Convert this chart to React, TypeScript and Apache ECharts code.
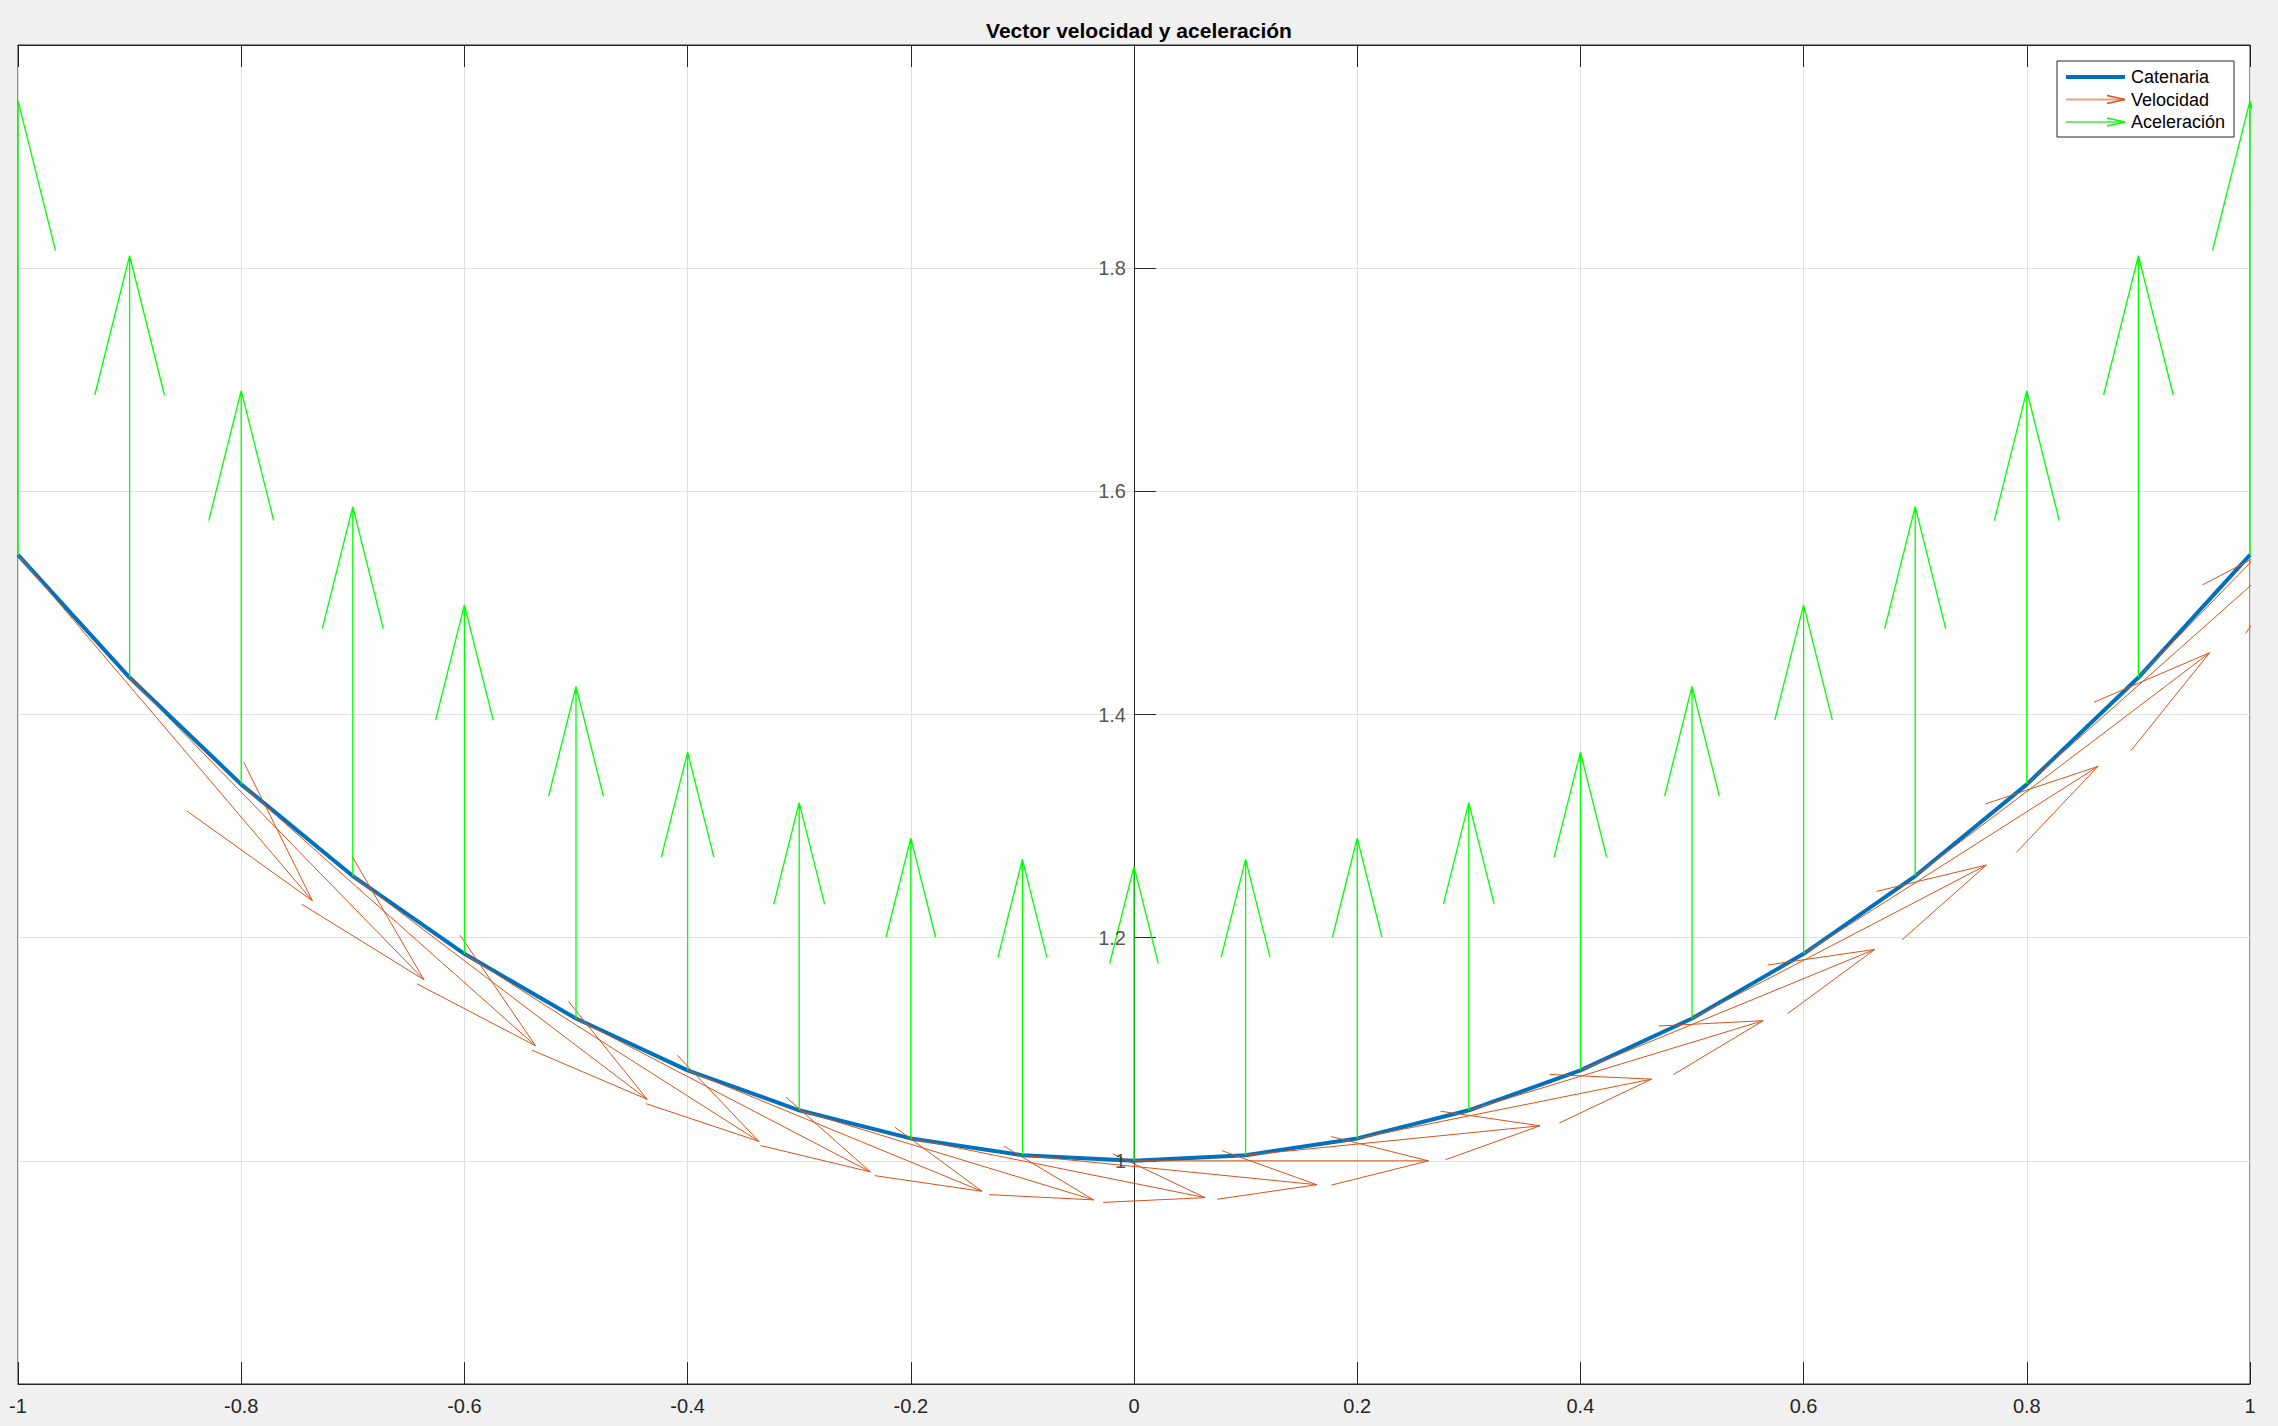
import React, { useEffect, useRef } from "react";
import * as echarts from "echarts";

// ---- data ----
const T = [-1, -0.9, -0.8, -0.7, -0.6, -0.5, -0.4, -0.3, -0.2, -0.1, 0, 0.1, 0.2, 0.3, 0.4, 0.5, 0.6, 0.7, 0.8, 0.9, 1];
const CATENARIA_Y = [1.5431, 1.4331, 1.3374, 1.2552, 1.1855, 1.1276, 1.0811, 1.0453, 1.0201, 1.005, 1.0, 1.005, 1.0201, 1.0453, 1.0811, 1.1276, 1.1855, 1.2552, 1.3374, 1.4331, 1.5431];
const VEL_U = [0.2638, 0.2638, 0.2638, 0.2638, 0.2638, 0.2638, 0.2638, 0.2638, 0.2638, 0.2638, 0.2638, 0.2638, 0.2638, 0.2638, 0.2638, 0.2638, 0.2638, 0.2638, 0.2638, 0.2638, 0.2638];
const VEL_V = [-0.31, -0.2708, -0.2343, -0.2001, -0.168, -0.1375, -0.1084, -0.0803, -0.0531, -0.0264, 0, 0.0264, 0.0531, 0.0803, 0.1084, 0.1375, 0.168, 0.2001, 0.2343, 0.2708, 0.31];
const ACC_U = [0, 0, 0, 0, 0, 0, 0, 0, 0, 0, 0, 0, 0, 0, 0, 0, 0, 0, 0, 0, 0];
const ACC_V = [0.4071, 0.378, 0.3528, 0.3311, 0.3127, 0.2975, 0.2852, 0.2757, 0.2691, 0.2651, 0.2638, 0.2651, 0.2691, 0.2757, 0.2852, 0.2975, 0.3127, 0.3311, 0.3528, 0.378, 0.4071];
const Y_TICK_LABELS = [1, 1.2, 1.4, 1.6, 1.8];
const X_MIN = -1;
const X_MAX = 1;
const Y_MIN = 0.8;
const Y_MAX = 2.0;
const TICK_STEP = 0.2;
const SERIES_NAMES = ["Catenaria", "Velocidad", "Aceleración"];
const TITLE = "Vector velocidad y aceleración";

// arrow head proportions (MATLAB quiver style)
const HEAD_ALPHA = 0.33;
const HEAD_BETA = 0.25;

function quiverData(xs: number[], ys: number[], us: number[], vs: number[]) {
  const out: any[] = [];
  for (let i = 0; i < xs.length; i++) {
    const x0 = xs[i], y0 = ys[i], u = us[i], v = vs[i];
    const x1 = x0 + u, y1 = y0 + v;
    out.push([x0, y0], [x1, y1], ["-", "-"]);
    const b1 = [x1 - HEAD_ALPHA * (u + HEAD_BETA * v), y1 - HEAD_ALPHA * (v - HEAD_BETA * u)];
    const b2 = [x1 - HEAD_ALPHA * (u - HEAD_BETA * v), y1 - HEAD_ALPHA * (v + HEAD_BETA * u)];
    out.push(b1, [x1, y1], b2, ["-", "-"]);
  }
  return out;
}

const FONT = "'Liberation Sans', Arial, Helvetica, sans-serif";
const AXIS_COLOR = "#262626";
const GRID_COLOR = "#e0e0e0";

export default function App() {
  const ref = useRef<HTMLDivElement>(null);
  useEffect(() => {
    if (!ref.current) return;
    const chart = echarts.init(ref.current, undefined, { renderer: "svg" });
    const W = 2278;
    const gridLeft = 18, gridTop = 45, gridRight = 28, gridBottom = 42;
    const legX = 2057, legY = 61, legW = 177, legH = 76;
    const rowY = [77, 99.5, 122];
    const lx0 = 2066, lx1 = 2125;
    const option: any = {
      animation: false,
      backgroundColor: "#f0f0f0",
      textStyle: { fontFamily: FONT },
      title: {
        text: TITLE,
        left: (gridLeft + (W - gridRight)) / 2,
        textAlign: "center",
        top: 15,
        textStyle: { fontFamily: FONT, fontSize: 21, fontWeight: "bold", color: "#000" },
      },
      grid: {
        left: gridLeft,
        top: gridTop,
        right: gridRight,
        bottom: gridBottom,
        outerBoundsMode: "none",
        containLabel: false,
        show: true,
        backgroundColor: "#ffffff",
        borderColor: AXIS_COLOR,
        borderWidth: 1,
      },
      xAxis: [
        {
          type: "value",
          min: X_MIN,
          max: X_MAX,
          interval: TICK_STEP,
          position: "bottom",
          axisLine: { show: true, onZero: false, lineStyle: { color: AXIS_COLOR, width: 1 } },
          axisTick: { show: true, inside: true, length: 22, lineStyle: { color: AXIS_COLOR } },
          axisLabel: { show: true, fontSize: 20, color: AXIS_COLOR, margin: 12, fontFamily: FONT },
          splitLine: { show: true, lineStyle: { color: GRID_COLOR, width: 1 } },
        },
        {
          type: "value",
          min: X_MIN,
          max: X_MAX,
          interval: TICK_STEP,
          position: "top",
          axisLine: { show: true, onZero: false, lineStyle: { color: AXIS_COLOR, width: 1 } },
          axisTick: { show: true, inside: true, length: 22, lineStyle: { color: AXIS_COLOR } },
          axisLabel: { show: false },
          splitLine: { show: false },
        },
      ],
      yAxis: {
        type: "value",
        min: Y_MIN,
        max: Y_MAX,
        interval: TICK_STEP,
        axisLine: { show: true, onZero: true, lineStyle: { color: AXIS_COLOR, width: 1 } },
        axisTick: { show: true, inside: true, length: 22, lineStyle: { color: AXIS_COLOR } },
        axisLabel: { show: false },
        splitLine: { show: true, lineStyle: { color: GRID_COLOR, width: 1 } },
      },
      series: [
        {
          name: SERIES_NAMES[0],
          type: "line",
          xAxisIndex: 0,
          data: T.map((t, i) => [t, CATENARIA_Y[i]]),
          showSymbol: false,
          lineStyle: { color: "#0072BD", width: 4 },
          itemStyle: { color: "#0072BD" },
          clip: true,
          z: 3,
        },
        {
          name: SERIES_NAMES[1],
          type: "line",
          xAxisIndex: 0,
          data: quiverData(T, CATENARIA_Y, VEL_U, VEL_V),
          showSymbol: false,
          connectNulls: false,
          lineStyle: { color: "#D95319", width: 1 },
          itemStyle: { color: "#D95319" },
          clip: true,
          z: 4,
        },
        {
          name: SERIES_NAMES[2],
          type: "line",
          xAxisIndex: 0,
          data: quiverData(T, CATENARIA_Y, ACC_U, ACC_V),
          showSymbol: false,
          connectNulls: false,
          lineStyle: { color: "#00FF00", width: 1.3 },
          itemStyle: { color: "#00FF00" },
          clip: true,
          z: 5,
        },
        {
          name: "yTickLabels",
          type: "scatter",
          xAxisIndex: 0,
          silent: true,
          symbolSize: 0,
          data: Y_TICK_LABELS.map((v) => [0, v]),
          label: {
            show: true,
            position: "left",
            distance: 8,
            formatter: (p: any) => String(p.value[1]),
            fontFamily: FONT,
            fontSize: 20,
            color: AXIS_COLOR,
          },
          z: 6,
        },
      ],
      graphic: [
        {
          type: "group",
          z: 100,
          children: [
            {
              type: "rect",
              shape: { x: legX, y: legY, width: legW, height: legH },
              style: { fill: "#ffffff", stroke: AXIS_COLOR, lineWidth: 1 },
            },
            {
              type: "line",
              shape: { x1: lx0, y1: rowY[0], x2: lx1, y2: rowY[0] },
              style: { stroke: "#0072BD", lineWidth: 4 },
            },
            {
              type: "line",
              shape: { x1: lx0, y1: rowY[1], x2: lx1, y2: rowY[1] },
              style: { stroke: "#E8A080", lineWidth: 2 },
            },
            {
              type: "polyline",
              shape: { points: [[lx1 - 18, rowY[1] - 4], [lx1, rowY[1]], [lx1 - 18, rowY[1] + 4]] },
              style: { stroke: "#D95319", lineWidth: 1.3, fill: "none" },
            },
            {
              type: "line",
              shape: { x1: lx0, y1: rowY[2], x2: lx1, y2: rowY[2] },
              style: { stroke: "#70F070", lineWidth: 2 },
            },
            {
              type: "polyline",
              shape: { points: [[lx1 - 18, rowY[2] - 4], [lx1, rowY[2]], [lx1 - 18, rowY[2] + 4]] },
              style: { stroke: "#00FF00", lineWidth: 1.3, fill: "none" },
            },
            ...SERIES_NAMES.map((n, i) => ({
              type: "text",
              x: 2131,
              y: rowY[i],
              style: {
                text: n,
                fontFamily: FONT,
                fontSize: 18,
                fill: "#000",
                verticalAlign: "middle",
                align: "left",
              },
            })),
          ],
        },
      ],
    };
    chart.setOption(option);
    return () => chart.dispose();
  }, []);
  return (
    <div
      ref={ref}
      style={{ position: "absolute", left: 0, top: 0, width: 2278, height: 1426, background: "#f0f0f0" }}
    />
  );
}
